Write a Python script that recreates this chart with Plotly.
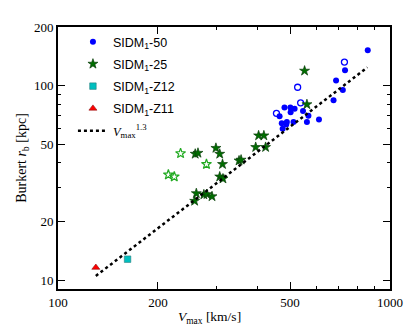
import plotly.graph_objects as go

# SIDM1-50 halos (filled = relaxed, open = others)
sidm50_v = [857, 732, 688, 721, 676, 611, 568, 562, 547, 516, 501, 481, 502, 465, 472, 489, 487, 512, 475]
sidm50_r = [152, 120, 106, 95, 84, 67, 70, 65, 74, 76, 77, 77, 73, 69.5, 64, 65, 63, 65, 60]
sidm50_open_v = [729, 527, 538, 455]
sidm50_open_r = [132, 98, 81.5, 72]

# SIDM1-25 halos
sidm25_v = [259, 264, 299, 307, 313, 307, 314, 261, 275, 281, 291, 258, 351, 356, 402, 417, 394, 422, 553, 562]
sidm25_r = [44.5, 45, 47.7, 44.5, 39.4, 34, 33.2, 27.9, 27.5, 27.6, 26.9, 25.5, 41.1, 41.5, 55.3, 55.3, 48.2, 48.2, 119, 80]
sidm25_open_v = [234, 280, 215, 224]
sidm25_open_r = [44.8, 39.4, 34.8, 34]

# zoom-in runs
z12_v = [162]
z12_r = [12.8]
z11_v = [130]
z11_r = [11.6]

# Vmax^1.3 scaling line (end points)
fit_v = [130, 855]
fit_r = [10.5, 124]

x_ticks = [100, 200, 500, 1000]
y_ticks = [10, 20, 50, 100, 200]

SERIF = "Liberation Serif"
SANS = "Liberation Sans"

fig = go.Figure()

fig.add_trace(go.Scatter(x=sidm50_v, y=sidm50_r, mode='markers', name='SIDM<sub>1</sub>-50',
                         legendgroup='a',
                         marker=dict(symbol='circle', size=6, color='#0000ff', line=dict(width=0))))
fig.add_trace(go.Scatter(x=sidm50_open_v, y=sidm50_open_r, mode='markers', showlegend=False,
                         legendgroup='a',
                         marker=dict(symbol='circle-open', size=6, color='#0000ff', line=dict(width=1.3))))
fig.add_trace(go.Scatter(x=sidm25_v, y=sidm25_r, mode='markers', name='SIDM<sub>1</sub>-25',
                         legendgroup='b',
                         marker=dict(symbol='star', size=7.5, color='#006e00', line=dict(width=0.7, color='#0b3d0b'))))
fig.add_trace(go.Scatter(x=sidm25_open_v, y=sidm25_open_r, mode='markers', showlegend=False,
                         legendgroup='b',
                         marker=dict(symbol='star-open', size=7.5, color='#22aa22', line=dict(width=1.2))))
fig.add_trace(go.Scatter(x=z12_v, y=z12_r, mode='markers', name='SIDM<sub>1</sub>-Z12',
                         legendgroup='c',
                         marker=dict(symbol='square', size=6.5, color='#00bfbf', line=dict(width=0.6, color='#2a8080'))))
fig.add_trace(go.Scatter(x=z11_v, y=z11_r, mode='markers', name='SIDM<sub>1</sub>-Z11',
                         legendgroup='d',
                         marker=dict(symbol='triangle-up', size=7, color='#ff0000', line=dict(width=0.6, color='#8a1010'))))
fig.add_trace(go.Scatter(x=fit_v, y=fit_r, mode='lines',
                         name='<span style="font-family:Liberation Serif"><i>V</i><sub>max</sub><sup>1.3</sup></span>',
                         legendgroup='e',
                         line=dict(color='black', width=2.5, dash='3px,3px')))

axis_common = dict(
    type='log', showgrid=False, zeroline=False,
    showline=True, linecolor='black', linewidth=1.8, mirror='allticks',
    ticks='inside', ticklen=7, tickwidth=1.3, tickcolor='black',
    tickfont=dict(family=SERIF, size=13, color='black'),
    title_font=dict(family=SERIF, size=14, color='black'),
)

# page body adds an 8px offset, so the figure is sized to fit the window
fig.update_layout(
    width=407, height=325,
    margin=dict(l=49, r=25, t=15, b=44),
    paper_bgcolor='white', plot_bgcolor='white',
    showlegend=True,
    legend=dict(x=0.045, y=1.0, xanchor='left', yanchor='top',
                bgcolor='rgba(0,0,0,0)', borderwidth=0,
                font=dict(family=SANS, size=12.5, color='black'),
                tracegroupgap=3, itemwidth=30),
    xaxis=dict(axis_common, range=[2, 3], tickvals=x_ticks, ticktext=[str(v) for v in x_ticks],
               minor=dict(ticks='inside', ticklen=3.5, tickwidth=1, tickcolor='black',
                          tickvals=[300, 400, 600, 700, 800, 900])),
    yaxis=dict(axis_common, range=[0.954, 2.301], tickvals=y_ticks, ticktext=[str(v) for v in y_ticks],
               title=dict(text='Burkert <i>r</i><sub>b</sub> [kpc]', standoff=4),
               minor=dict(ticks='inside', ticklen=3.5, tickwidth=1, tickcolor='black',
                          tickvals=[30, 40, 60, 70, 80, 90])),
)

# x title as annotation (nudged so it sits centred like the original)
fig.add_annotation(text='<i>V</i><sub>max</sub> [km/s]', xref='paper', yref='paper',
                   x=0.5, y=-0.07, xanchor='center', yanchor='top', showarrow=False,
                   xshift=-15,
                   font=dict(family=SERIF, size=13.5, color='black'))

fig.write_html("out.html")
